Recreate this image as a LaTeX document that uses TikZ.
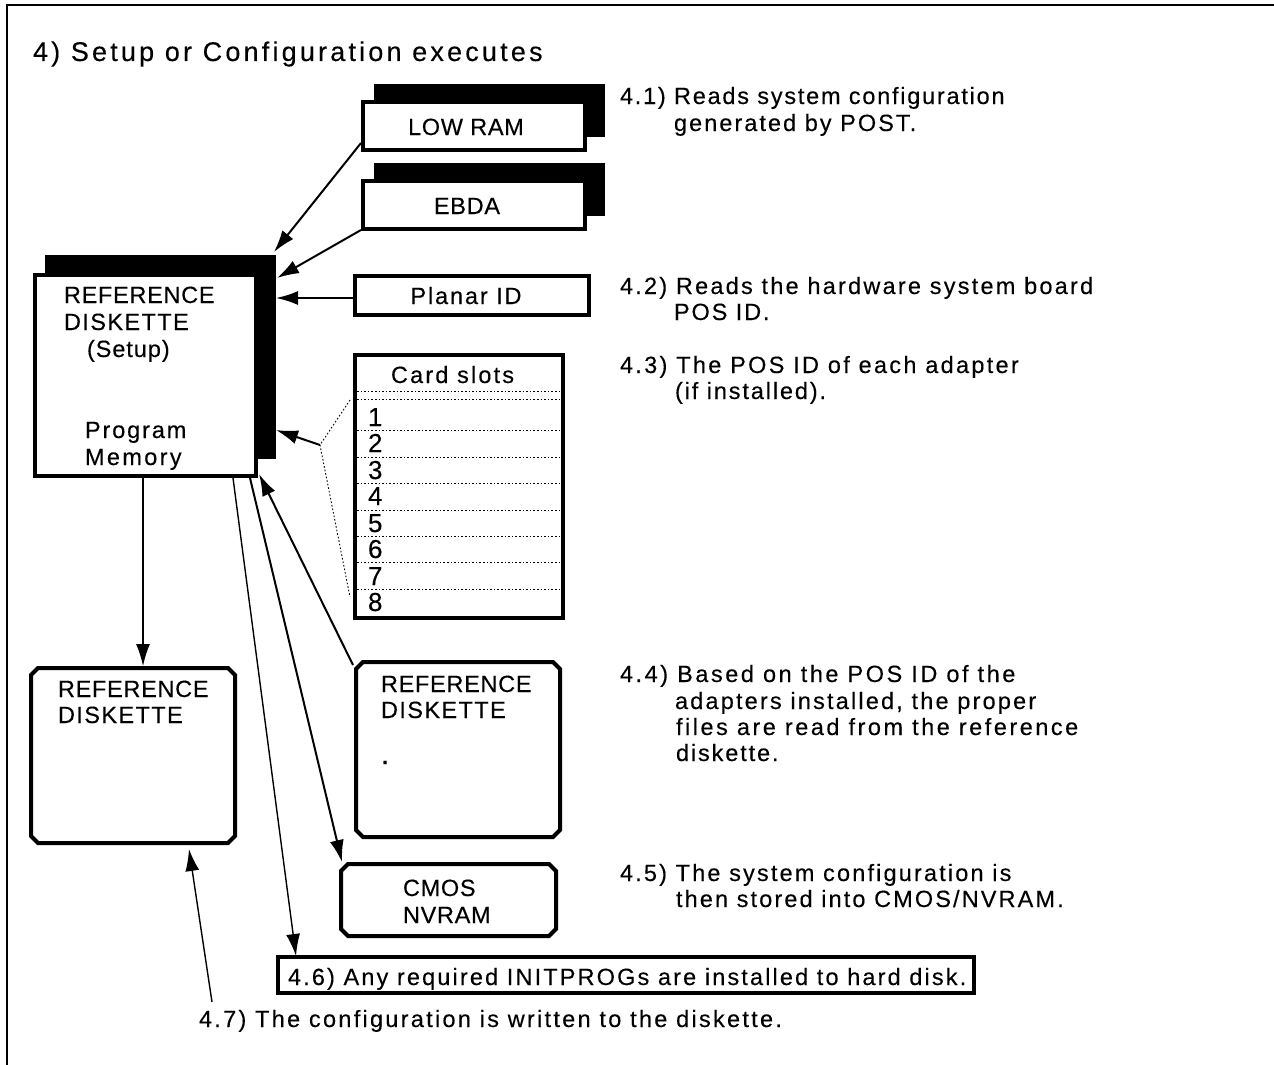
\documentclass[tikz,border=0pt]{standalone}
\usepackage{fontspec}
\setmainfont{Liberation Sans}[FakeBold=0.25]
\newfontfamily\capsfont{Liberation Sans}[LetterSpace=3.0,FakeBold=0.25]
\newfontfamily\notefont{Liberation Sans}[FakeBold=0.25]
\usetikzlibrary{arrows.meta,calc}
\newcommand{\bx}[6][]{\node[#1,minimum width={(#5-#3)*1pt},minimum height={(#6-#4)*1pt}] (#2) at ({(#3+#5)/2*1pt},{-(#4+#6)/2*1pt}) {};}
% draws a box with cut corners along the rim of an already placed node
\newcommand{\cham}[1]{\draw[chamline] ($(#1.north west)+(7,0)$) -- ($(#1.north east)+(-7,0)$) -- ($(#1.north east)+(0,7)$) -- ($(#1.south east)+(0,-7)$) -- ($(#1.south east)+(-7,0)$) -- ($(#1.south west)+(7,0)$) -- ($(#1.south west)+(0,-7)$) -- ($(#1.north west)+(0,7)$) -- cycle;}
\tikzset{
  plainbox/.style={draw=black,fill=white,line width=4pt,rectangle,inner sep=0pt,outer sep=0pt},
  thinbox/.style={plainbox,line width=3.6pt},
  shadowbox/.style={draw=none,fill=black,rectangle,inner sep=0pt,outer sep=0pt},
  chambox/.style={draw=none,rectangle,inner sep=0pt,outer sep=0pt},
  chamline/.style={draw=black,fill=white,line width=4pt,line join=miter},
  lab/.style={anchor=base west,inner sep=0pt,outer sep=0pt,font=\capsfont\fontsize{23.5}{26}\selectfont,text=black},
  note/.style={lab,font=\notefont\fontsize{23.5}{26}\selectfont\addfontfeature{LetterSpace=#1}},
  note/.default=8,
  clab/.style={lab,anchor=base},
  digit/.style={lab,font=\capsfont\fontsize{26}{28}\selectfont},
  thinarrow/.style={draw=black,line width=1.4pt,-{Latex[length=22pt,width=14pt]}},
  medarrow/.style={draw=black,line width=2pt,-{Latex[length=22pt,width=14pt]}},
  dots/.style={draw=black,line width=0.9pt,dash pattern=on 1.6pt off 2pt},
}
\begin{document}
\begin{tikzpicture}[x=1pt,y=-1pt]
\useasboundingbox (0,0) rectangle (1274,1065);
\coordinate (ftl) at (7,5);
\coordinate (ftr) at (1274,5);
\coordinate (fbl) at (7,1065);
\draw[line width=1.6pt] (fbl) -- (ftl) -- (ftr);

\node[lab,font=\notefont\fontsize{27}{30}\selectfont\addfontfeature{LetterSpace=11.8}] (title) at (33,61) {4) Setup or Configuration executes};

% shadows and boxes
\bx[shadowbox]{lowshadow}{374}{84}{605}{137}
\bx[plainbox]{lowram}{363}{102}{585}{150}
\bx[shadowbox]{ebdashadow}{374}{163}{605}{216}
\bx[plainbox]{ebda}{363}{181}{585}{229}
\bx[thinbox]{planar}{355}{276}{589}{315}
\bx[shadowbox]{refshadow}{45}{255}{276}{459}
\bx[plainbox]{setup}{35}{275}{256}{476}
\bx[thinbox]{slots}{355}{355}{563}{618}
\bx[chambox]{refright}{356}{662}{560}{837}
\cham{refright}
\bx[chambox]{refleft}{31}{668}{235}{843}
\cham{refleft}
\bx[chambox]{cmos}{341}{864}{556}{936}
\cham{cmos}
\bx[thinbox]{initbox}{278}{957}{974}{993}

% box labels
\node[clab] (tlow) at (466,135) {LOW RAM};
\node[clab] (tebda) at (467,214) {EBDA};
\node[note,anchor=base] (tplanar) at (466,304) {Planar ID};
\node[lab] (s1) at (64,303) {REFERENCE};
\node[note=6] (s2) at (64,330) {DISKETTE};
\node[note=4] (s3) at (87,357) {(Setup)};
\node[note] (s4) at (85,438) {Program};
\node[note=10] (s5) at (85,465) {Memory};
\node[lab] (rl1) at (58,697) {REFERENCE};
\node[note=6] (rl2) at (58,723) {DISKETTE};
\node[lab] (rr1) at (381,692) {REFERENCE};
\node[note=6] (rr2) at (381,718) {DISKETTE};
\node[lab,font=\capsfont\fontsize{30}{30}\selectfont] (rr3) at (381,764) {.};
\node[lab] (c1) at (403,896) {CMOS};
\node[lab] (c2) at (403,923) {NVRAM};
\node[note=9.2] (cs) at (391,383) {Card slots};

% slot rows
\foreach \yy in {391,399,430,457,483,510,536,562,589}{
  \draw[dots] ($(slots.west |- 0,\yy)+(2,0)$) -- ($(slots.east |- 0,\yy)+(-2,0)$);
}
\foreach \n/\yy in {1/426,2/452,3/479,4/505,5/532,6/558,7/585,8/611}{
  \node[digit] (d\n) at (368,\yy) {\n};
}

% side notes
\node[note=7.5] (n11) at (620,104) {4.1) Reads system configuration};
\node[note=8.7] (n12) at (674,131) {generated by POST.};
\node[note=9.5] (n21) at (620,294) {4.2) Reads the hardware system board};
\node[note] (n22) at (674,320) {POS ID.};
\node[note=9.8] (n31) at (620,373) {4.3) The POS ID of each adapter};
\node[note] (n32) at (675,399) {(if installed).};
\node[note=10.8] (n41) at (620,682) {4.4) Based on the POS ID of the};
\node[note=9.3] (n42) at (675,709) {adapters installed, the proper};
\node[note=10.7] (n43) at (676,735) {files are read from the reference};
\node[note] (n44) at (676,761) {diskette.};
\node[note=9.2] (n51) at (620,881) {4.5) The system configuration is};
\node[note=9] (n52) at (676,907) {then stored into CMOS/NVRAM.};
\node[note=9.1] (n6) at (288,985) {4.6) Any required INITPROGs are installed to hard disk.};
\node[note=9.7] (n7) at (199,1027) {4.7) The configuration is written to the diskette.};

% dotted bracket
\coordinate (brk) at (320,445);
\draw[dots] ($(slots.north west)+(-5,45)$) -- (brk) -- ($(slots.south west)+(-5,-21)$);

% connectors
\draw[medarrow] ($(lowram.south west)+(-2,-7)$) -- ($(refshadow.north east)+(-2,-3)$);
\draw[medarrow] ($(ebda.south west)+(-2,1)$) -- ($(refshadow.north east)+(1,23)$);
\draw[medarrow] ($(planar.west)+(0,2.5)$) -- ($(refshadow.north east)+(0,43)$);
\draw[medarrow] (brk) -- ($(refshadow.south east)+(0,-29)$);
\draw[medarrow] ($(refright.north west)+(-3,3)$) -- ($(setup.south east)+(3,-2)$);
\draw[thinarrow] ($(setup.south)+(-2.5,2)$) -- ($(refleft.north)+(10,-2)$);
\draw[thinarrow] ($(setup.south east)+(-23,2)$) -- ($(initbox.north west)+(18,-1)$);
\draw[medarrow] ($(setup.south east)+(-6,2)$) -- ($(cmos.north west)+(1,-2)$);
\coordinate (n7top) at (212,1002);
\draw[thinarrow] (n7top) -- ($(refleft.south west)+(158,6)$);
\end{tikzpicture}
\end{document}
